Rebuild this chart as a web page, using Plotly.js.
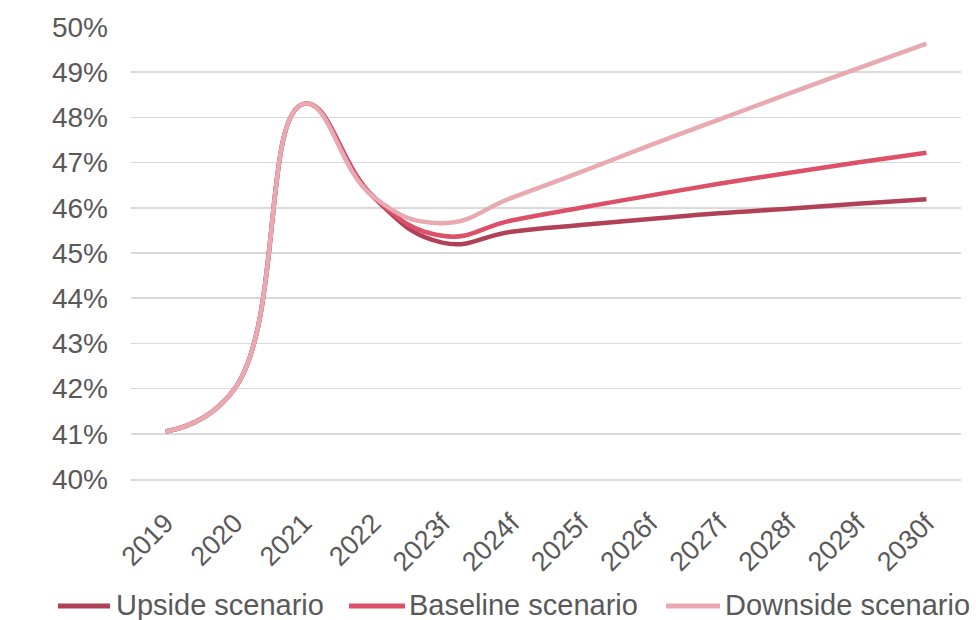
<!DOCTYPE html>
<html>
<head>
<meta charset="utf-8">
<script src="https://cdn.plot.ly/plotly-3.0.1.min.js"></script>
<style>
  html, body { margin: 0; padding: 0; background: #ffffff; }
  #chart { width: 976px; height: 620px; }
</style>
</head>
<body>
<div id="chart"></div>
<script>
// Years on the category axis ("f" = forecast)
const years = ["2019", "2020", "2021", "2022", "2023f", "2024f", "2025f", "2026f", "2027f", "2028f", "2029f", "2030f"];

// Share in percent for each scenario
const upside   = [41.05, 42.0, 48.3, 46.25, 45.23, 45.47, 45.62, 45.75, 45.88, 45.98, 46.09, 46.19];
const baseline = [41.05, 42.0, 48.3, 46.25, 45.38, 45.72, 46.0, 46.27, 46.53, 46.77, 47.0, 47.22];
const downside = [41.05, 42.0, 48.3, 46.25, 45.66, 46.22, 46.79, 47.38, 47.95, 48.52, 49.08, 49.63];

const names  = ["Upside scenario", "Baseline scenario", "Downside scenario"];
const colors = ["#b04157", "#dc5068", "#e8a9b1"];
const seriesValues = [upside, baseline, downside];

const FONT = "Liberation Sans, Arial, sans-serif";
const TEXT = "#595959";

const W = 976, H = 620;
const M = { l: 131, r: 15, t: 27, b: 141 };
const plotW = W - M.l - M.r, plotH = H - M.t - M.b;

// pixel -> paper coordinates (for the legend row under the axis labels)
const px = x => (x - M.l) / plotW;
const py = y => (H - M.b - y) / plotH;

const traces = seriesValues.map((vals, i) => ({
  type: "scatter",
  mode: "lines",
  name: names[i],
  x: years,
  y: vals,
  line: { color: colors[i], width: 4.5, shape: "spline", smoothing: 1.3 },
  hoverinfo: "x+y+name",
  showlegend: false
}));

// Legend row: a line sample followed by the series name
const legendRowY = 606;
const legendItems = [
  { x0: 58,  x1: 110, tx: 114 },
  { x0: 349, x1: 405, tx: 407 },
  { x0: 666, x1: 720, tx: 723 }
];
const shapes = legendItems.map((it, i) => ({
  type: "line",
  xref: "paper", yref: "paper",
  x0: px(it.x0), x1: px(it.x1),
  y0: py(legendRowY), y1: py(legendRowY),
  line: { color: colors[i], width: 5 }
}));
const annotations = legendItems.map((it, i) => ({
  xref: "paper", yref: "paper",
  x: px(it.tx), y: py(legendRowY - 1),
  xanchor: "left", yanchor: "middle",
  text: names[i],
  showarrow: false,
  font: { family: FONT, size: 29, color: TEXT }
}));

const layout = {
  width: W,
  height: H,
  margin: M,
  paper_bgcolor: "#ffffff",
  plot_bgcolor: "#ffffff",
  font: { family: FONT, color: TEXT, size: 28 },
  xaxis: {
    type: "category",
    range: [-0.5, 11.5],
    tickangle: -45,
    tickfont: { family: FONT, size: 27, color: TEXT },
    showgrid: false,
    zeroline: false,
    showline: true,
    linecolor: "#d9d9d9",
    linewidth: 1.5,
    ticks: "",
    ticklabelstandoff: 16
  },
  yaxis: {
    range: [40, 50],
    tickmode: "array",
    tickvals: [40, 41, 42, 43, 44, 45, 46, 47, 48, 49, 50],
    ticktext: ["40%", "41%", "42%", "43%", "44%", "45%", "46%", "47%", "48%", "49%", "50%"],
    tickfont: { family: FONT, size: 28, color: TEXT },
    showgrid: true,
    gridcolor: "#d9d9d9",
    gridwidth: 1.5,
    zeroline: false,
    showline: false,
    ticks: "",
    ticklabelstandoff: 22
  },
  showlegend: false,
  shapes: shapes,
  annotations: annotations
};

Plotly.newPlot("chart", traces, layout, { displayModeBar: false, staticPlot: true });
</script>
</body>
</html>
